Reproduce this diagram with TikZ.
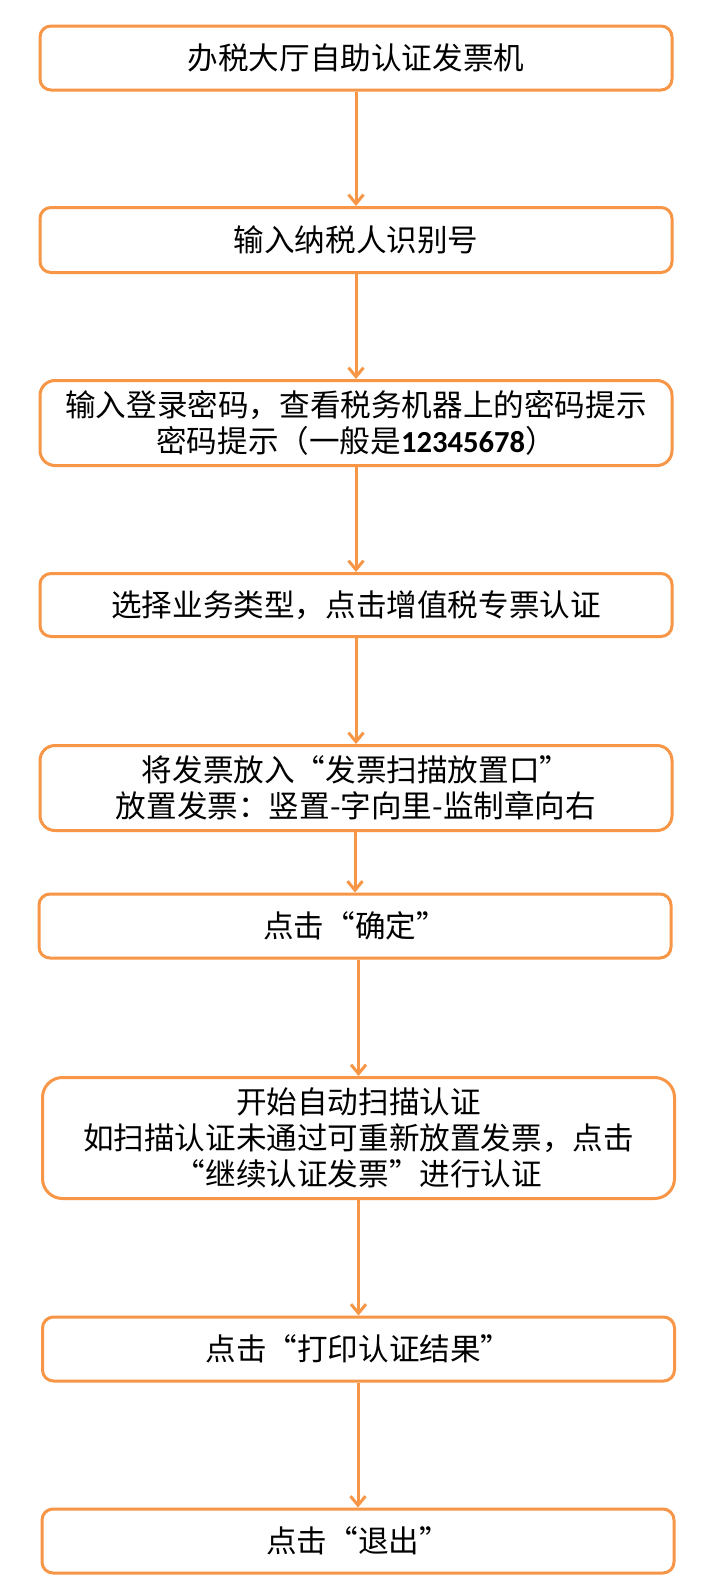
\documentclass[tikz,border=0pt]{standalone}
\usepackage{fontspec}
\usepackage{tikz}
\usetikzlibrary{arrows.meta}
\newfontfamily\cjk{Noto Sans CJK SC}
\newfontfamily\digits{Carlito}
\definecolor{flowline}{HTML}{F79646}

\begin{document}
\begin{tikzpicture}[x=1pt,y=-1pt,
  stepbox/.style={draw=flowline, line width=3pt, fill=white, rounded corners=11pt,
    minimum width=632pt, minimum height=64pt, inner sep=0pt, align=center,
    font=\cjk\fontsize{30.6}{36}\selectfont},
  flow/.style={draw=flowline, line width=3pt, -{Straight Barb[length=9pt,width=15pt]}}]
\fill[white] (0,0) rectangle (723,1590);
\useasboundingbox (0,0) rectangle (723,1590);
\node[stepbox] (b1) at (356,58) {办税大厅自助认证发票机};
\node[stepbox, minimum height=65pt] (b2) at (356,240) {输入纳税人识别号};
\node[stepbox, minimum height=85pt, rounded corners=15pt] (b3) at (356,423)
  {输入登录密码，查看税务机器上的密码提示\\密码提示（一般是{\digits\bfseries 12345678}）};
\node[stepbox, minimum height=63pt] (b4) at (356,605) {选择业务类型，点击增值税专票认证};
\node[stepbox, minimum height=85pt, rounded corners=15pt] (b5) at (356,788)
  {将发票放入“发票扫描放置口”\\放置发票：竖置-字向里-监制章向右};
\node[stepbox] (b6) at (355,926) {点击“确定”};
\node[stepbox, minimum height=121pt, rounded corners=20pt] (b7) at (358.5,1138)
  {开始自动扫描认证\\如扫描认证未通过可重新放置发票，点击\\“继续认证发票”进行认证};
\node[stepbox] (b8) at (358.5,1349) {点击“打印认证结果”};
\node[stepbox] (b9) at (358,1541) {点击“退出”};
\foreach \a/\b in {b1/b2,b2/b3,b3/b4,b4/b5,b5/b6,b6/b7,b7/b8,b8/b9}
  \draw[flow] (\b.north |- \a.south) -- (\b.north);
\end{tikzpicture}
\end{document}
